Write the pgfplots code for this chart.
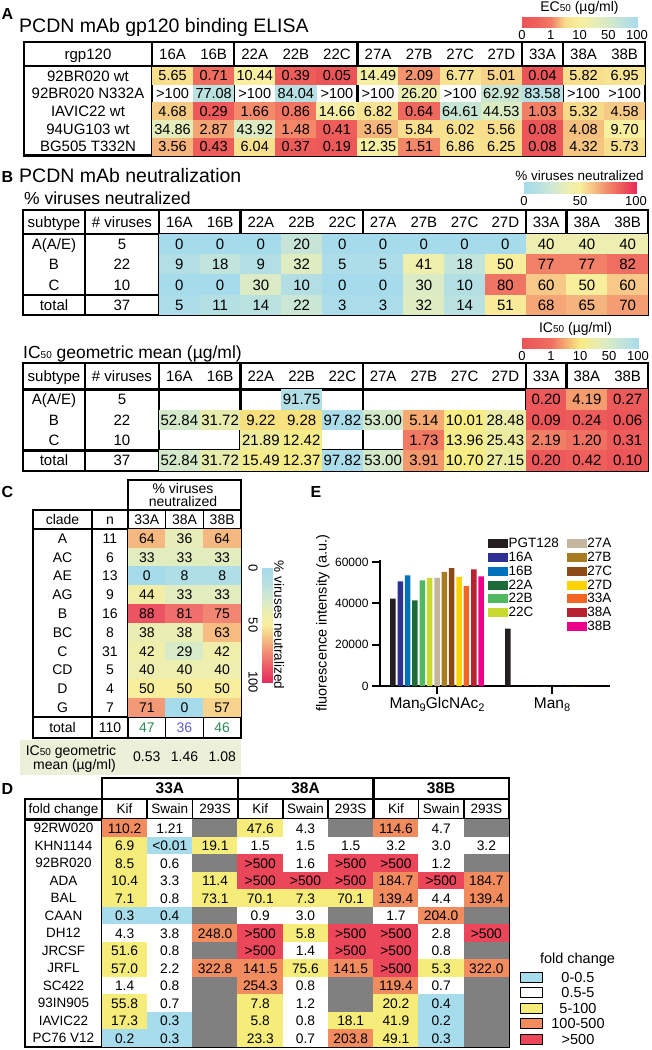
\documentclass[border=0pt]{standalone}
\usepackage{fontspec}
\setmainfont{Liberation Sans}
\usepackage{pgfplots}
\usepackage{pgfplotstable}
\pgfplotsset{compat=1.18}
\newcommand\fs[1]{\fontsize{#1}{#1}\selectfont}
\newcommand\sub[1]{{\fs{10}#1}}

\definecolor{icbg}{RGB}{236,240,216}
\definecolor{tgreen}{RGB}{45,140,85}
\definecolor{tblue}{RGB}{95,95,205}
\definecolor{dblue}{RGB}{166,220,235}
\definecolor{dyel}{RGB}{246,236,122}
\definecolor{dora}{RGB}{242,140,95}
\definecolor{dred}{RGB}{235,70,90}
\definecolor{dgry}{RGB}{128,128,128}
\definecolor{ePGT}{RGB}{35,31,32}
\definecolor{e16A}{RGB}{46,49,146}
\definecolor{e16B}{RGB}{0,114,188}
\definecolor{e22A}{RGB}{30,107,58}
\definecolor{e22B}{RGB}{80,185,95}
\definecolor{e22C}{RGB}{200,218,45}
\definecolor{e27A}{RGB}{195,182,156}
\definecolor{e27B}{RGB}{168,124,34}
\definecolor{e27C}{RGB}{140,75,20}
\definecolor{e27D}{RGB}{255,210,0}
\definecolor{e33A}{RGB}{242,101,34}
\definecolor{e38A}{RGB}{183,33,48}
\definecolor{e38B}{RGB}{236,0,140}

\pgfdeclareplotmark{cellA}{\pgfpathrectangle{\pgfpoint{-20.75pt}{-9.05pt}}{\pgfpoint{41.5pt}{18.1pt}}\pgfusepathqfill}
\pgfdeclareplotmark{cellB}{\pgfpathrectangle{\pgfpoint{-20.6pt}{-10.35pt}}{\pgfpoint{41.2pt}{20.7pt}}\pgfusepathqfill}
\pgfdeclareplotmark{cellC}{\pgfpathrectangle{\pgfpoint{-19.05pt}{-9.6pt}}{\pgfpoint{38.1pt}{19.2pt}}\pgfusepathqfill}
\pgfdeclareplotmark{cellD}{\pgfpathrectangle{\pgfpoint{-22.8pt}{-8.95pt}}{\pgfpoint{45.6pt}{17.9pt}}\pgfusepathqfill}
\pgfdeclareplotmark{nomark}{}

\pgfplotsset{
 colormap={mapA}{rgb255=(236,84,88) rgb255=(238,95,90) rgb255=(242,125,100) rgb255=(247,222,140) rgb255=(248,240,160) rgb255=(232,237,180) rgb255=(214,234,200) rgb255=(188,226,222) rgb255=(170,220,236)},
 colormap={mapBb}{rgb255=(236,84,88) rgb255=(238,96,92) rgb255=(240,110,96) rgb255=(245,175,115) rgb255=(248,236,130) rgb255=(233,236,170) rgb255=(214,234,200) rgb255=(190,227,220) rgb255=(170,220,236)},
 colormap={mapBa}{rgb255=(166,219,236) rgb255=(182,224,226) rgb255=(208,233,210) rgb255=(234,238,180) rgb255=(249,238,155) rgb255=(246,190,130) rgb255=(242,135,105) rgb255=(237,88,90) rgb255=(232,45,90)},
 colormap={mapC}{rgb255=(166,219,236) rgb255=(182,224,226) rgb255=(208,233,210) rgb255=(234,238,180) rgb255=(249,238,155) rgb255=(246,190,130) rgb255=(241,135,115) rgb255=(236,85,100) rgb255=(230,45,95)},
 colormap={mapD}{rgb255=(166,220,235) rgb255=(255,255,255) rgb255=(246,236,122) rgb255=(242,140,95) rgb255=(235,70,90) rgb255=(128,128,128)},
 tbl/.style={scale only axis, hide axis, clip=false, y dir=reverse, anchor=north west, enlargelimits=false},
 cellplot/.style={only marks, scatter, scatter/use mapped color={draw=none,fill=mapped color}},
 txtplot/.style={only marks, mark=nomark, point meta=explicit symbolic, nodes near coords, every node near coord/.append style={anchor=center, inner sep=0pt, text depth=0pt, text=black, #1}},
 cbar/.style={scale only axis, anchor=south west, enlargelimits=false, axis line style={draw=none}, major tick length=0pt, ytick=\empty, ymin=0, ymax=1, xticklabel style={font=\fs{13}, inner sep=0pt, text height=9.1pt, text depth=0pt, anchor=north, yshift=-3.5pt}},
}
\tikzset{
 T/.style 2 args={font=\fs{#1}, text height=#2, text depth=0pt, inner sep=0pt, anchor=center},
 L/.style={line width=2.4pt},
 l/.style={line width=1.6pt},
}
\newcommand\ecpos{\thisrow{v}<1 ? \thisrow{v} : (\thisrow{v}<10 ? 1+(\thisrow{v}-1)/9 : (\thisrow{v}<50 ? 2+(\thisrow{v}-10)/40 : 3+(\thisrow{v}-50)/50))}
\newcommand\colhdr[4]{%
 \node[#4] at (axis cs:{#1+#2*0.5},#3) {16A};
 \node[#4] at (axis cs:{#1+#2*1.5},#3) {16B};
 \node[#4] at (axis cs:{#1+#2*2.5},#3) {22A};
 \node[#4] at (axis cs:{#1+#2*3.5},#3) {22B};
 \node[#4] at (axis cs:{#1+#2*4.5},#3) {22C};
 \node[#4] at (axis cs:{#1+#2*5.5},#3) {27A};
 \node[#4] at (axis cs:{#1+#2*6.5},#3) {27B};
 \node[#4] at (axis cs:{#1+#2*7.5},#3) {27C};
 \node[#4] at (axis cs:{#1+#2*8.5},#3) {27D};
 \node[#4] at (axis cs:{#1+#2*9.5},#3) {33A};
 \node[#4] at (axis cs:{#1+#2*10.5},#3) {38A};
 \node[#4] at (axis cs:{#1+#2*11.5},#3) {38B};
}
\newcommand\blines[4]{%
 \draw[L] (axis cs:23,#1) rectangle (axis cs:648,#4);
 \draw[L] (axis cs:23,#2) -- (axis cs:648,#2);
 \draw[L] (axis cs:23,#3) -- (axis cs:648,#3);
 \pgfplotsinvokeforeach{85,159,240.5,362.75,525.75,566.5}{\draw[L] (axis cs:##1,#1) -- (axis cs:##1,#4);}
}

% ---------- data ----------
\pgfplotstableread{
c r v
0 0 5.65
1 0 0.71
2 0 10.44
3 0 0.39
4 0 0.05
5 0 14.49
6 0 2.09
7 0 6.77
8 0 5.01
9 0 0.04
10 0 5.82
11 0 6.95
1 1 77.08
3 1 84.04
6 1 26.20
8 1 62.92
9 1 83.58
0 2 4.68
1 2 0.29
2 2 1.66
3 2 0.86
4 2 14.66
5 2 6.82
6 2 0.64
7 2 64.61
8 2 44.53
9 2 1.03
10 2 5.32
11 2 4.58
0 3 34.86
1 3 2.87
2 3 43.92
3 3 1.48
4 3 0.41
5 3 3.65
6 3 5.84
7 3 6.02
8 3 5.56
9 3 0.08
10 3 4.08
11 3 9.70
0 4 3.56
1 4 0.43
2 4 6.04
3 4 0.37
4 4 0.19
5 4 12.35
6 4 1.51
7 4 6.86
8 4 6.25
9 4 0.08
10 4 4.32
11 4 5.73
}\dataA
\pgfplotstableread{
c r
0 1
2 1
4 1
5 1
7 1
10 1
11 1
}\dataAgt
\pgfplotstableread{
c r v
0 0 0
1 0 0
2 0 0
3 0 20
4 0 0
5 0 0
6 0 0
7 0 0
8 0 0
9 0 40
10 0 40
11 0 40
0 1 9
1 1 18
2 1 9
3 1 32
4 1 5
5 1 5
6 1 41
7 1 18
8 1 50
9 1 77
10 1 77
11 1 82
0 2 0
1 2 0
2 2 30
3 2 10
4 2 0
5 2 0
6 2 30
7 2 10
8 2 80
9 2 60
10 2 50
11 2 60
0 3 5
1 3 11
2 3 14
3 3 22
4 3 3
5 3 3
6 3 32
7 3 14
8 3 51
9 3 68
10 3 65
11 3 70
}\dataBa
\pgfplotstableread{
c r v
3 0 91.75
9 0 0.20
10 0 4.19
11 0 0.27
0 1 52.84
1 1 31.72
2 1 9.22
3 1 9.28
4 1 97.82
5 1 53.00
6 1 5.14
7 1 10.01
8 1 28.48
9 1 0.09
10 1 0.24
11 1 0.06
2 2 21.89
3 2 12.42
6 2 1.73
7 2 13.96
8 2 25.43
9 2 2.19
10 2 1.20
11 2 0.31
0 3 52.84
1 3 31.72
2 3 15.49
3 3 12.37
4 3 97.82
5 3 53.00
6 3 3.91
7 3 10.70
8 3 27.15
9 3 0.20
10 3 0.42
11 3 0.10
}\dataBb
\pgfplotstableread{
c r v
0 0 64
1 0 36
2 0 64
0 1 33
1 1 33
2 1 33
0 2 0
1 2 8
2 2 8
0 3 44
1 3 33
2 3 33
0 4 88
1 4 81
2 4 75
0 5 38
1 5 38
2 5 63
0 6 42
1 6 29
2 6 42
0 7 40
1 7 40
2 7 40
0 8 50
1 8 50
2 8 50
0 9 71
1 9 0
2 9 57
}\dataC
\pgfplotstableread{
c r k t
0 0 3 110.2
1 0 1 1.21
2 0 5 {}
3 0 2 47.6
4 0 1 4.3
5 0 5 {}
6 0 3 114.6
7 0 1 4.7
8 0 5 {}
0 1 2 6.9
1 1 0 <0.01
2 1 2 19.1
3 1 1 1.5
4 1 1 1.5
5 1 1 1.5
6 1 1 3.2
7 1 1 3.0
8 1 1 3.2
0 2 2 8.5
1 2 1 0.6
2 2 5 {}
3 2 4 >500
4 2 1 1.6
5 2 4 >500
6 2 4 >500
7 2 1 1.2
8 2 5 {}
0 3 2 10.4
1 3 1 3.3
2 3 2 11.4
3 3 4 >500
4 3 4 >500
5 3 4 >500
6 3 3 184.7
7 3 4 >500
8 3 3 184.7
0 4 2 7.1
1 4 1 0.8
2 4 2 73.1
3 4 2 70.1
4 4 2 7.3
5 4 2 70.1
6 4 3 139.4
7 4 1 4.4
8 4 3 139.4
0 5 0 0.3
1 5 0 0.4
2 5 5 {}
3 5 1 0.9
4 5 1 3.0
5 5 5 {}
6 5 1 1.7
7 5 3 204.0
8 5 5 {}
0 6 1 4.3
1 6 1 3.8
2 6 3 248.0
3 6 4 >500
4 6 2 5.8
5 6 4 >500
6 6 4 >500
7 6 1 2.8
8 6 4 >500
0 7 2 51.6
1 7 1 0.8
2 7 5 {}
3 7 4 >500
4 7 1 1.4
5 7 4 >500
6 7 4 >500
7 7 1 0.8
8 7 5 {}
0 8 2 57.0
1 8 1 2.2
2 8 3 322.8
3 8 3 141.5
4 8 2 75.6
5 8 3 141.5
6 8 4 >500
7 8 2 5.3
8 8 3 322.0
0 9 1 1.4
1 9 1 0.8
2 9 5 {}
3 9 3 254.3
4 9 1 0.8
5 9 5 {}
6 9 3 119.4
7 9 1 0.7
8 9 5 {}
0 10 2 55.8
1 10 1 0.7
2 10 5 {}
3 10 2 7.8
4 10 1 1.2
5 10 5 {}
6 10 2 20.2
7 10 0 0.4
8 10 5 {}
0 11 2 17.3
1 11 0 0.3
2 11 5 {}
3 11 2 5.8
4 11 1 0.8
5 11 2 18.1
6 11 2 41.9
7 11 0 0.2
8 11 5 {}
0 12 0 0.2
1 12 0 0.3
2 12 5 {}
3 12 2 23.3
4 12 1 0.7
5 12 3 203.8
6 12 2 49.1
7 12 0 0.3
8 12 5 {}
}\dataD

\begin{document}
\begin{tikzpicture}
\useasboundingbox (0pt,0pt) rectangle (652pt,-1050pt);

% ---------------- titles ----------------
\node[T={16}{11.2pt}, font=\fs{16}\bfseries] at (7.5pt,-14pt) {A};
\node[T={19.5}{13.65pt}, anchor=west] at (19pt,-25.5pt) {PCDN mAb gp120 binding ELISA};
\node[T={14}{9.8pt}] at (579.5pt,-6.7pt) {EC\sub{50} (µg/ml)};
\node[T={16}{11.2pt}, font=\fs{16}\bfseries] at (7.5pt,-177pt) {B};
\node[T={19.5}{13.65pt}, anchor=west] at (19pt,-176pt) {PCDN mAb neutralization};
\node[T={17.5}{12.25pt}, anchor=west] at (24pt,-198pt) {\% viruses neutralized};
\node[T={13.5}{9.45pt}] at (579.5pt,-176pt) {\% viruses neutralized};
\node[T={17.5}{12.25pt}, anchor=west] at (23pt,-352pt) {IC\sub{50} geometric mean (µg/ml)};
\node[T={14}{9.8pt}] at (575.5pt,-328pt) {IC\sub{50} (µg/ml)};
\node[T={16}{11.2pt}, font=\fs{16}\bfseries] at (7.5pt,-492pt) {C};
\node[T={16}{11.2pt}, font=\fs{16}\bfseries] at (316pt,-492pt) {E};
\node[T={16}{11.2pt}, font=\fs{16}\bfseries] at (7.5pt,-788.5pt) {D};
\node[T={13.5}{9.45pt}, rotate=-90] at (279pt,-625pt) {\% viruses neutralized};

% ---------------- colorbars ----------------
\begin{axis}[cbar, at={(522pt,-27pt)}, width=115pt, height=10pt, xmin=0, xmax=4, colormap name=mapA, point meta min=0, point meta max=4, xtick={0,1,2,3,4}, xticklabels={0,1,10,50,100}]
\addplot[surf, shader=interp, point meta=x, mesh/cols=9] coordinates {(0,0)(0.5,0)(1,0)(1.5,0)(2,0)(2.5,0)(3,0)(3.5,0)(4,0)(0,1)(0.5,1)(1,1)(1.5,1)(2,1)(2.5,1)(3,1)(3.5,1)(4,1)};
\end{axis}
\begin{axis}[cbar, at={(524pt,-193pt)}, width=112pt, height=11pt, xmin=0, xmax=100, colormap name=mapBa, point meta min=0, point meta max=100, xtick={0,50,100}, xticklabels={0,50,100}]
\addplot[surf, shader=interp, point meta=x, mesh/cols=9] coordinates {(0,0)(12.5,0)(25,0)(37.5,0)(50,0)(62.5,0)(75,0)(87.5,0)(100,0)(0,1)(12.5,1)(25,1)(37.5,1)(50,1)(62.5,1)(75,1)(87.5,1)(100,1)};
\end{axis}
\begin{axis}[cbar, at={(522pt,-348pt)}, width=116pt, height=10pt, xmin=0, xmax=4, colormap name=mapBb, point meta min=0, point meta max=4, xtick={0,1,2,3,4}, xticklabels={0,1,10,50,100}]
\addplot[surf, shader=interp, point meta=x, mesh/cols=9] coordinates {(0,0)(0.5,0)(1,0)(1.5,0)(2,0)(2.5,0)(3,0)(3.5,0)(4,0)(0,1)(0.5,1)(1,1)(1.5,1)(2,1)(2.5,1)(3,1)(3.5,1)(4,1)};
\end{axis}
\begin{axis}[scale only axis, anchor=north west, at={(262pt,-568pt)}, width=10pt, height=114pt, xmin=0, xmax=1, ymin=0, ymax=100, y dir=reverse, enlargelimits=false, axis line style={draw=none}, major tick length=0pt, xtick=\empty, ytick={0,50,100}, yticklabels={0,50,100}, yticklabel style={font=\fs{13}, rotate=-90, anchor=north, inner xsep=0pt, inner ysep=4pt, text height=9.1pt, text depth=0pt}, colormap name=mapC, point meta min=0, point meta max=100]
\addplot[surf, shader=interp, point meta=y, mesh/cols=2] coordinates {(0,0)(1,0)(0,12.5)(1,12.5)(0,25)(1,25)(0,37.5)(1,37.5)(0,50)(1,50)(0,62.5)(1,62.5)(0,75)(1,75)(0,87.5)(1,87.5)(0,100)(1,100)};
\end{axis}

% ---------------- panel A ----------------
\begin{axis}[tbl, at={(24pt,-42pt)}, width=621.2pt, height=113.5pt, xmin=24, xmax=645.2, ymin=42, ymax=155.5, colormap name=mapA, point meta min=0, point meta max=4]
\addplot[cellplot, mark=cellA, point meta={\ecpos}] table[x expr={152+41.1*(\thisrow{c}+0.5)}, y expr={67+17.7*(\thisrow{r}+0.5)}]{\dataA};
\addplot[txtplot={font=\fs{14.5}, text height=10.15pt}] table[x expr={152+41.1*(\thisrow{c}+0.5)}, y expr={67+17.7*(\thisrow{r}+0.5)}, meta=v]{\dataA};
\addplot[only marks, mark=nomark, nodes near coords={>100}, every node near coord/.append style={anchor=center, inner sep=0pt, text=black, font=\fs{14.5}, text height=10.15pt, text depth=0pt}] table[x expr={152+41.1*(\thisrow{c}+0.5)}, y expr={67+17.7*(\thisrow{r}+0.5)}]{\dataAgt};
\draw[L] (axis cs:24,42) rectangle (axis cs:645.2,155.5);
\draw[L] (axis cs:24,66) -- (axis cs:645.2,66);
\pgfplotsinvokeforeach{152,234.2,357.5,521.9,563}{\draw[L] (axis cs:#1,42) -- (axis cs:#1,155.5);}
\node[T={15}{10.5pt}] at (axis cs:88,54) {rgp120};
\colhdr{152}{41.1}{54}{T={15}{10.5pt}}
\node[T={15}{10.5pt}] at (axis cs:88,75.85) {92BR020 wt};
\node[T={15}{10.5pt}] at (axis cs:88,93.55) {92BR020 N332A};
\node[T={15}{10.5pt}] at (axis cs:88,111.25) {IAVIC22 wt};
\node[T={15}{10.5pt}] at (axis cs:88,128.95) {94UG103 wt};
\node[T={15}{10.5pt}] at (axis cs:88,146.65) {BG505 T332N};
\end{axis}

% ---------------- panel B, % neutralized ----------------
\begin{axis}[tbl, at={(23pt,-210pt)}, width=625pt, height=105.2pt, xmin=23, xmax=648, ymin=210, ymax=315.2, colormap name=mapBa, point meta min=0, point meta max=100]
\addplot[cellplot, mark=cellB, point meta=explicit] table[x expr={159+40.75*(\thisrow{c}+0.5)}, y expr={234+20.3*(\thisrow{r}+0.5)}, meta=v]{\dataBa};
\addplot[txtplot={font=\fs{15}, text height=10.5pt}] table[x expr={159+40.75*(\thisrow{c}+0.5)}, y expr={234+20.3*(\thisrow{r}+0.5)}, meta=v]{\dataBa};
\blines{210}{234}{294.9}{315.2}
\node[T={15}{10.5pt}] at (axis cs:54,222) {subtype};
\node[T={15}{10.5pt}] at (axis cs:122,222) {\# viruses};
\colhdr{159}{40.75}{222}{T={15}{10.5pt}}
\node[T={15}{10.5pt}] at (axis cs:54,244.15) {A(A/E)};
\node[T={15}{10.5pt}] at (axis cs:54,264.45) {B};
\node[T={15}{10.5pt}] at (axis cs:54,284.75) {C};
\node[T={15}{10.5pt}] at (axis cs:54,305.05) {total};
\node[T={15}{10.5pt}] at (axis cs:122,244.15) {5};
\node[T={15}{10.5pt}] at (axis cs:122,264.45) {22};
\node[T={15}{10.5pt}] at (axis cs:122,284.75) {10};
\node[T={15}{10.5pt}] at (axis cs:122,305.05) {37};
\end{axis}

% ---------------- panel B, IC50 ----------------
\begin{axis}[tbl, at={(23pt,-363pt)}, width=625pt, height=107.7pt, xmin=23, xmax=648, ymin=363, ymax=470.7, colormap name=mapBb, point meta min=0, point meta max=4]
\addplot[cellplot, mark=cellB, point meta={\ecpos}] table[x expr={159+40.75*(\thisrow{c}+0.5)}, y expr={389.5+20.3*(\thisrow{r}+0.5)}]{\dataBb};
\addplot[txtplot={font=\fs{15}, text height=10.5pt}] table[x expr={159+40.75*(\thisrow{c}+0.5)}, y expr={389.5+20.3*(\thisrow{r}+0.5)}, meta=v]{\dataBb};
\blines{363}{389.5}{450.4}{470.7}
\node[T={15}{10.5pt}] at (axis cs:54,376.25) {subtype};
\node[T={15}{10.5pt}] at (axis cs:122,376.25) {\# viruses};
\colhdr{159}{40.75}{376.25}{T={15}{10.5pt}}
\node[T={15}{10.5pt}] at (axis cs:54,399.65) {A(A/E)};
\node[T={15}{10.5pt}] at (axis cs:54,419.95) {B};
\node[T={15}{10.5pt}] at (axis cs:54,440.25) {C};
\node[T={15}{10.5pt}] at (axis cs:54,460.55) {total};
\node[T={15}{10.5pt}] at (axis cs:122,399.65) {5};
\node[T={15}{10.5pt}] at (axis cs:122,419.95) {22};
\node[T={15}{10.5pt}] at (axis cs:122,440.25) {10};
\node[T={15}{10.5pt}] at (axis cs:122,460.55) {37};
\end{axis}

% ---------------- panel C ----------------
\begin{axis}[tbl, at={(20pt,-480pt)}, width=221pt, height=295pt, xmin=20, xmax=241, ymin=480, ymax=775, colormap name=mapC, point meta min=0, point meta max=100]
\fill[icbg] (axis cs:20,740) rectangle (axis cs:241,775);
\addplot[cellplot, mark=cellC, point meta=explicit] table[x expr={128+37.67*(\thisrow{c}+0.5)}, y expr={529+18.8*(\thisrow{r}+0.5)}, meta=v]{\dataC};
\addplot[txtplot={font=\fs{14}, text height=9.8pt}] table[x expr={128+37.67*(\thisrow{c}+0.5)}, y expr={529+18.8*(\thisrow{r}+0.5)}, meta=v]{\dataC};
\draw[L] (axis cs:128,480) rectangle (axis cs:241,510);
\draw[L] (axis cs:33,510) rectangle (axis cs:241,738);
\draw[L] (axis cs:33,529) -- (axis cs:241,529);
\draw[L] (axis cs:33,717) -- (axis cs:241,717);
\draw[L] (axis cs:92,510) -- (axis cs:92,738);
\draw[L] (axis cs:128,510) -- (axis cs:128,738);
\draw[l] (axis cs:165.67,510) -- (axis cs:165.67,529);
\draw[l] (axis cs:203.33,510) -- (axis cs:203.33,529);
\draw[l] (axis cs:165.67,717) -- (axis cs:165.67,738);
\draw[l] (axis cs:203.33,717) -- (axis cs:203.33,738);
\node[T={14}{9.8pt}] at (axis cs:183,489) {\% viruses};
\node[T={14}{9.8pt}] at (axis cs:183,501.5) {neutralized};
\node[T={14}{9.8pt}] at (axis cs:62.5,519.5) {clade};
\node[T={14}{9.8pt}] at (axis cs:110,519.5) {n};
\node[T={14}{9.8pt}] at (axis cs:146.8,519.5) {33A};
\node[T={14}{9.8pt}] at (axis cs:184.5,519.5) {38A};
\node[T={14}{9.8pt}] at (axis cs:222.2,519.5) {38B};
\node[T={14}{9.8pt}] at (axis cs:62.5,538.4) {A};
\node[T={14}{9.8pt}] at (axis cs:62.5,557.2) {AC};
\node[T={14}{9.8pt}] at (axis cs:62.5,576) {AE};
\node[T={14}{9.8pt}] at (axis cs:62.5,594.8) {AG};
\node[T={14}{9.8pt}] at (axis cs:62.5,613.6) {B};
\node[T={14}{9.8pt}] at (axis cs:62.5,632.4) {BC};
\node[T={14}{9.8pt}] at (axis cs:62.5,651.2) {C};
\node[T={14}{9.8pt}] at (axis cs:62.5,670) {CD};
\node[T={14}{9.8pt}] at (axis cs:62.5,688.8) {D};
\node[T={14}{9.8pt}] at (axis cs:62.5,707.6) {G};
\node[T={14}{9.8pt}] at (axis cs:110,538.4) {11};
\node[T={14}{9.8pt}] at (axis cs:110,557.2) {6};
\node[T={14}{9.8pt}] at (axis cs:110,576) {13};
\node[T={14}{9.8pt}] at (axis cs:110,594.8) {9};
\node[T={14}{9.8pt}] at (axis cs:110,613.6) {16};
\node[T={14}{9.8pt}] at (axis cs:110,632.4) {8};
\node[T={14}{9.8pt}] at (axis cs:110,651.2) {31};
\node[T={14}{9.8pt}] at (axis cs:110,670) {5};
\node[T={14}{9.8pt}] at (axis cs:110,688.8) {4};
\node[T={14}{9.8pt}] at (axis cs:110,707.6) {7};
\node[T={14}{9.8pt}] at (axis cs:62.5,727.5) {total};
\node[T={14}{9.8pt}] at (axis cs:110,727.5) {110};
\node[T={14}{9.8pt}, text=tgreen] at (axis cs:146.8,727.5) {47};
\node[T={14}{9.8pt}, text=tblue] at (axis cs:184.5,727.5) {36};
\node[T={14}{9.8pt}, text=tgreen] at (axis cs:222.2,727.5) {46};
\node[T={14}{9.8pt}] at (axis cs:71,751) {IC\sub{50} geometric};
\node[T={14}{9.8pt}] at (axis cs:74.5,765) {mean (µg/ml)};
\node[T={14}{9.8pt}] at (axis cs:146.8,757) {0.53};
\node[T={14}{9.8pt}] at (axis cs:184.5,757) {1.46};
\node[T={14}{9.8pt}] at (axis cs:222.2,757) {1.08};
\end{axis}

% ---------------- panel D ----------------
\begin{axis}[tbl, at={(25pt,-778pt)}, width=484pt, height=269pt, xmin=25, xmax=509, ymin=778, ymax=1047, colormap name=mapD, point meta min=0, point meta max=5]
\addplot[cellplot, mark=cellD, point meta=explicit] table[x expr={102+45.22*(\thisrow{c}+0.5)}, y expr={819.5+17.5*(\thisrow{r}+0.5)}, meta=k]{\dataD};
\addplot[txtplot={font=\fs{13.8}, text height=9.66pt}] table[x expr={102+45.22*(\thisrow{c}+0.5)}, y expr={819.5+17.5*(\thisrow{r}+0.5)}, meta=t]{\dataD};
\draw[L] (axis cs:102,778) rectangle (axis cs:509,799);
\draw[L] (axis cs:237.7,778) -- (axis cs:237.7,799);
\draw[L] (axis cs:373.3,778) -- (axis cs:373.3,799);
\draw[L] (axis cs:25,799) rectangle (axis cs:509,1047);
\draw[L] (axis cs:25,819.5) -- (axis cs:509,819.5);
\pgfplotsinvokeforeach{102,237.7,373.3}{\draw[L] (axis cs:#1,799) -- (axis cs:#1,1047);}
\pgfplotsinvokeforeach{147.2,192.4,282.9,328.1,418.6,463.8}{\draw[l] (axis cs:#1,799) -- (axis cs:#1,1047);}
\node[T={15.5}{10.85pt}, font=\fs{15.5}\bfseries] at (axis cs:169.85,788.5) {33A};
\node[T={15.5}{10.85pt}, font=\fs{15.5}\bfseries] at (axis cs:305.5,788.5) {38A};
\node[T={15.5}{10.85pt}, font=\fs{15.5}\bfseries] at (axis cs:441.15,788.5) {38B};
\node[T={13.5}{9.45pt}] at (axis cs:63.5,809.25) {fold change};
\pgfplotsinvokeforeach{124.61,260.27,395.93}{\node[T={13.5}{9.45pt}] at (axis cs:#1,809.25) {Kif};}
\pgfplotsinvokeforeach{169.83,305.49,441.15}{\node[T={13.5}{9.45pt}] at (axis cs:#1,809.25) {Swain};}
\pgfplotsinvokeforeach{215.05,350.71,486.37}{\node[T={13.5}{9.45pt}] at (axis cs:#1,809.25) {293S};}
\node[T={13.5}{9.45pt}] at (axis cs:63.5,828.25) {92RW020};
\node[T={13.5}{9.45pt}] at (axis cs:63.5,845.75) {KHN1144};
\node[T={13.5}{9.45pt}] at (axis cs:63.5,863.25) {92BR020};
\node[T={13.5}{9.45pt}] at (axis cs:63.5,880.75) {ADA};
\node[T={13.5}{9.45pt}] at (axis cs:63.5,898.25) {BAL};
\node[T={13.5}{9.45pt}] at (axis cs:63.5,915.75) {CAAN};
\node[T={13.5}{9.45pt}] at (axis cs:63.5,933.25) {DH12};
\node[T={13.5}{9.45pt}] at (axis cs:63.5,950.75) {JRCSF};
\node[T={13.5}{9.45pt}] at (axis cs:63.5,968.25) {JRFL};
\node[T={13.5}{9.45pt}] at (axis cs:63.5,985.75) {SC422};
\node[T={13.5}{9.45pt}] at (axis cs:63.5,1003.25) {93IN905};
\node[T={13.5}{9.45pt}] at (axis cs:63.5,1020.75) {IAVIC22};
\node[T={13.5}{9.45pt}] at (axis cs:63.5,1038.25) {PC76 V12};
% legend of fold change
\node[T={14.5}{10.15pt}] at (axis cs:577.5,958) {fold change};
\filldraw[fill=dblue, draw=black, line width=1pt] (axis cs:520,972) rectangle (axis cs:542,982);
\filldraw[fill=white, draw=black, line width=1pt] (axis cs:520,987.5) rectangle (axis cs:542,997.5);
\filldraw[fill=dyel, draw=black, line width=1pt] (axis cs:520,1003) rectangle (axis cs:542,1013);
\filldraw[fill=dora, draw=black, line width=1pt] (axis cs:520,1018.5) rectangle (axis cs:542,1028.5);
\filldraw[fill=dred, draw=black, line width=1pt] (axis cs:520,1034) rectangle (axis cs:542,1044);
\node[T={14.5}{10.15pt}] at (axis cs:578,977) {0-0.5};
\node[T={14.5}{10.15pt}] at (axis cs:578,992.5) {0.5-5};
\node[T={14.5}{10.15pt}] at (axis cs:578,1008) {5-100};
\node[T={14.5}{10.15pt}] at (axis cs:578,1023.5) {100-500};
\node[T={14.5}{10.15pt}] at (axis cs:578,1039) {>500};
\end{axis}

% ---------------- panel E ----------------
\begin{axis}[
 at={(380pt,-686pt)}, anchor=south west, scale only axis, width=230pt, height=126pt,
 ybar, bar width=5.5pt, enlargelimits=false,
 xmin=-0.496, xmax=1.504, ymin=0, ymax=61000,
 axis x line*=bottom, axis y line*=left,
 axis line style={line width=2pt},
 xtick={0,1},
 xticklabels={{Man\raisebox{-3pt}{\fs{11}9}GlcNAc\raisebox{-3pt}{\fs{11}2}},{Man\raisebox{-3pt}{\fs{11}8}}},
 xticklabel style={font=\fs{15.5}},
 ytick={0,20000,40000,60000}, scaled y ticks=false,
 /pgf/number format/assume math mode=true,
 yticklabel style={font=\fs{12}, /pgf/number format/1000 sep={}},
 tick align=outside, major tick length=8pt, tick style={line width=2pt, black},
 ylabel={fluorescence intensity (a.u.)},
 every axis y label/.style={at={(rel axis cs:-0.248,0.5)}, rotate=90, anchor=center, font=\fs{14.5}},
 legend columns=2, legend cell align=left,
 legend style={at={(rel axis cs:0.4674,1.1786)}, anchor=north west, draw=none, fill=none, inner sep=0pt, font=\fs{13.5}, row sep=1.2pt, nodes={inner sep=0.8pt}, /tikz/every even column/.append style={column sep=7pt}},
 every axis plot post/.append style={legend image code/.code={\fill[##1] (0pt,-4.5pt) rectangle (20pt,4.5pt);}},
]
\addplot[fill=ePGT, draw=none, bar shift=-44.1pt] coordinates {(0,42300) (1,27800)};
\addplot[fill=e27A, draw=none, bar shift=0pt] coordinates {(0,52300) (1,0)};
\addplot[fill=e16A, draw=none, bar shift=-36.75pt] coordinates {(0,50700) (1,0)};
\addplot[fill=e27B, draw=none, bar shift=7.35pt] coordinates {(0,55200) (1,0)};
\addplot[fill=e16B, draw=none, bar shift=-29.4pt] coordinates {(0,53600) (1,0)};
\addplot[fill=e27C, draw=none, bar shift=14.7pt] coordinates {(0,57100) (1,0)};
\addplot[fill=e22A, draw=none, bar shift=-22.05pt] coordinates {(0,41500) (1,0)};
\addplot[fill=e27D, draw=none, bar shift=22.05pt] coordinates {(0,52800) (1,0)};
\addplot[fill=e22B, draw=none, bar shift=-14.7pt] coordinates {(0,51200) (1,0)};
\addplot[fill=e33A, draw=none, bar shift=29.4pt] coordinates {(0,48300) (1,0)};
\addplot[fill=e22C, draw=none, bar shift=-7.35pt] coordinates {(0,52300) (1,0)};
\addplot[fill=e38A, draw=none, bar shift=36.75pt] coordinates {(0,56500) (1,0)};
\addplot[fill=white, fill opacity=0, draw=none, bar shift=0pt] coordinates {(0,0)};
\addplot[fill=e38B, draw=none, bar shift=44.1pt] coordinates {(0,53100) (1,0)};
\legend{PGT128,27A,16A,27B,16B,27C,22A,27D,22B,33A,22C,38A,\phantom{0},38B}
\end{axis}
\end{tikzpicture}
\end{document}
